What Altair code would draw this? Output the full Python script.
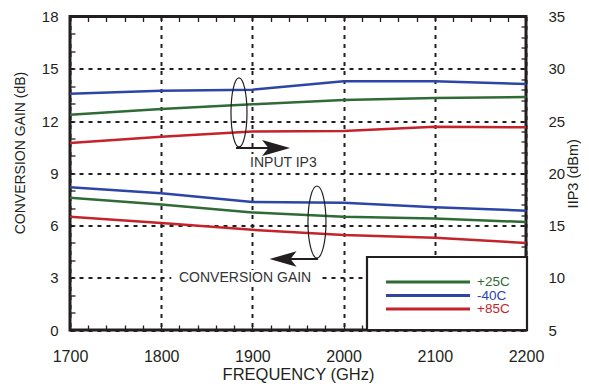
import altair as alt
import pandas as pd

# ---------------- data ----------------
freq = [1700, 1800, 1900, 2000, 2100, 2200]
temps = ["+25C", "-40C", "+85C"]
gain_p25 = [7.6, 7.2, 6.75, 6.5, 6.4, 6.2]
gain_m40 = [8.2, 7.85, 7.35, 7.3, 7.05, 6.85]
gain_p85 = [6.5, 6.15, 5.75, 5.45, 5.3, 5.0]
iip3_p25 = [25.6, 26.15, 26.6, 27.0, 27.2, 27.3]
iip3_m40 = [27.6, 27.9, 28.0, 28.8, 28.8, 28.55]
iip3_p85 = [22.9, 23.5, 24.0, 24.05, 24.45, 24.4]
colors = ["#2f6b35", "#2c45a6", "#c5232c"]

x_ticks = list(range(1700, 2201, 20))
gain_ticks = list(range(0, 19))
iip3_ticks = list(range(5, 36))

# annotation anchors in data units (frequency, conversion gain)
ip3_text = [1934, 9.6]
ip3_text_box = [1893, 1976, 9.05, 10.1]
ip3_ellipse = [1885.3, 12.49]
ip3_arrow = [1882, 1930, 10.45]
ip3_head = [1926, 10.45]
cg_text = [1892, 3.0]
cg_text_box = [1811, 1972, 2.47, 3.45]
cg_ellipse = [1970.8, 6.2]
cg_arrow = [1972, 1925, 4.08]
cg_head = [1933.6, 4.08]

INK = "#231f20"

rows = []
for t, g, ip in zip(temps, [gain_p25, gain_m40, gain_p85], [iip3_p25, iip3_m40, iip3_p85]):
    for f, gv, iv in zip(freq, g, ip):
        rows.append({"freq": f, "temp": t, "gain": gv, "iip3": iv})
df = pd.DataFrame(rows)
one = pd.DataFrame({"k": [0]})
leg_df = pd.DataFrame({"temp": temps})

xs = alt.Scale(domain=[1700, 2200], nice=False, zero=False)
ys_gain = alt.Scale(domain=[0, 18], nice=False, zero=False)
ys_iip3 = alt.Scale(domain=[5, 35], nice=False, zero=False)
color_scale = alt.Scale(domain=temps, range=colors)

bottom_axis = alt.Axis(
    values=x_ticks, format="d",
    labelExpr="datum.value % 100 === 0 ? datum.label : ''",
    labelOverlap=False, labelFlush=False, labelFontSize=16, labelPadding=23,
    tickSize={"expr": "-5"}, tickWidth=1.3, tickColor=INK, domain=False,
    grid=True, gridDash=[4, 5], gridWidth=2, gridColor=INK,
    gridOpacity={"condition": {"test": "datum.value % 100 === 0", "value": 1}, "value": 0},
    title="FREQUENCY (GHz)", titleFontSize=16.5, titleFontWeight="normal",
    titleY=49.5, titleBaseline="alphabetic",
)
top_axis = alt.Axis(
    orient="top", values=x_ticks, labels=False,
    tickSize={"expr": "-5"}, tickWidth=1.3, tickColor=INK, domain=False,
    grid=False, title="",
)
left_axis = alt.Axis(
    values=gain_ticks,
    labelExpr="datum.value % 3 === 0 ? datum.label : ''",
    labelOverlap=False, labelFlush=False, labelFontSize=15, labelPadding=17,
    tickSize={"expr": "-5"}, tickWidth=1.3, tickColor=INK, domain=False,
    grid=True, gridDash=[4, 5], gridWidth=2, gridColor=INK,
    gridOpacity={"condition": {"test": "datum.value % 3 === 0", "value": 1}, "value": 0},
    title="CONVERSION GAIN (dB)", titleFontSize=14, titleFontWeight="normal",
    titleX=-50, titleY=136, titleBaseline="middle", titleAngle=270,
)
right_axis = alt.Axis(
    orient="right", values=iip3_ticks,
    labelExpr="datum.value % 5 === 0 ? datum.label : ''",
    labelOverlap=False, labelFlush=False, labelFontSize=15, labelPadding=27,
    tickSize={"expr": "-5"}, tickWidth=1.3, tickColor=INK, domain=False,
    grid=False,
    title="IIP3 (dBm)", titleFontSize=14.5, titleFontWeight="normal",
    titleX=47.5, titleY=156.75, titleBaseline="middle", titleAngle=270,
)

color = alt.Color("temp:N", scale=color_scale, legend=None)

gain_lines = alt.Chart(df).mark_line(strokeWidth=2.5).encode(
    x=alt.X("freq:Q", scale=xs, axis=bottom_axis),
    y=alt.Y("gain:Q", scale=ys_gain, axis=left_axis),
    color=color, detail="temp:N",
)
iip3_lines = alt.Chart(df).mark_line(strokeWidth=2.5).encode(
    x=alt.X("freq:Q", scale=xs, axis=top_axis),
    y=alt.Y("iip3:Q", scale=ys_iip3, axis=right_axis),
    color=color, detail="temp:N",
)


def ax(v):
    return alt.X(datum=v, type="quantitative", scale=xs, axis=None)


def ay(v):
    return alt.Y(datum=v, type="quantitative", scale=ys_gain, axis=None)


def ellipse_path(k):
    c = round(0.5523 * k, 4)
    d = 0.5523
    return (f"M0,-1 C{c},-1 {k},-{d} {k},0 C{k},{d} {c},1 0,1 "
            f"C-{c},1 -{k},{d} -{k},0 C-{k},-{d} -{c},-1 0,-1 Z")


HEAD = "M1,0 L-1,-0.57 L-0.55,0 L-1,0.57 Z"

ip3_box = alt.Chart(one).mark_rect(fill="white").encode(
    x=ax(ip3_text_box[0]), x2=alt.X2(datum=ip3_text_box[1]),
    y=ay(ip3_text_box[2]), y2=alt.Y2(datum=ip3_text_box[3]))
cg_box = alt.Chart(one).mark_rect(fill="white").encode(
    x=ax(cg_text_box[0]), x2=alt.X2(datum=cg_text_box[1]),
    y=ay(cg_text_box[2]), y2=alt.Y2(datum=cg_text_box[3]))

ip3_label = alt.Chart(one).mark_text(fontSize=14, color="#333333", baseline="middle").encode(
    x=ax(ip3_text[0]), y=ay(ip3_text[1]), text=alt.value("INPUT IP3"))
cg_label = alt.Chart(one).mark_text(fontSize=14, color="#333333", baseline="middle").encode(
    x=ax(cg_text[0]), y=ay(cg_text[1]), text=alt.value("CONVERSION GAIN"))

ell1 = alt.Chart(one).mark_point(shape=ellipse_path(0.232), size=4761, filled=False,
                                 stroke=INK, strokeWidth=1.2, opacity=1).encode(
    x=ax(ip3_ellipse[0]), y=ay(ip3_ellipse[1]))
ell2 = alt.Chart(one).mark_point(shape=ellipse_path(0.25), size=5184, filled=False,
                                 stroke=INK, strokeWidth=1.2, opacity=1).encode(
    x=ax(cg_ellipse[0]), y=ay(cg_ellipse[1]))

arr1 = alt.Chart(one).mark_rule(strokeWidth=2, color=INK).encode(
    x=ax(ip3_arrow[0]), x2=alt.X2(datum=ip3_arrow[1]), y=ay(ip3_arrow[2]))
arr2 = alt.Chart(one).mark_rule(strokeWidth=2, color=INK).encode(
    x=ax(cg_arrow[0]), x2=alt.X2(datum=cg_arrow[1]), y=ay(cg_arrow[2]))
head1 = alt.Chart(one).mark_point(shape=HEAD, size=784, filled=True, fill=INK,
                                  strokeWidth=0, opacity=1).encode(
    x=ax(ip3_head[0]), y=ay(ip3_head[1]))
head2 = alt.Chart(one).mark_point(shape=HEAD, size=729, filled=True, fill=INK,
                                  strokeWidth=0, opacity=1, angle=180).encode(
    x=ax(cg_head[0]), y=ay(cg_head[1]))

# legend box drawn inside the plot (lower right corner)
leg_y = alt.Y("temp:N", scale=alt.Scale(type="point", domain=temps, range=[265.5, 292.5], padding=0),
              axis=None)
leg_box = alt.Chart(one).mark_rect(fill="white", stroke=INK, strokeWidth=2.2).encode(
    x=alt.value(297), x2=alt.value(457), y=alt.value(240.5), y2=alt.value(313.5))
leg_lines = alt.Chart(leg_df).mark_rule(strokeWidth=3).encode(
    x=alt.value(316), x2=alt.value(400), y=leg_y, color=color)
leg_text = alt.Chart(leg_df).mark_text(align="left", baseline="middle", fontSize=13.5).encode(
    x=alt.value(407), y=leg_y, text="temp:N", color=color)

chart = alt.layer(
    gain_lines, iip3_lines,
    ip3_box, cg_box, ip3_label, cg_label,
    ell1, ell2, arr1, arr2, head1, head2,
    leg_box, leg_lines, leg_text,
).resolve_scale(y="independent").resolve_axis(x="independent").properties(
    width=456, height=313.5,
    autosize=alt.AutoSizeParams(type="none"),
    padding={"left": 62, "top": 8.5, "right": 55, "bottom": 54},
).configure(font="Liberation Sans").configure_view(
    stroke=INK, strokeWidth=3
).configure_axis(labelColor=INK, titleColor=INK)

chart.save("out.html", embed_options={"renderer": "svg", "actions": False})
